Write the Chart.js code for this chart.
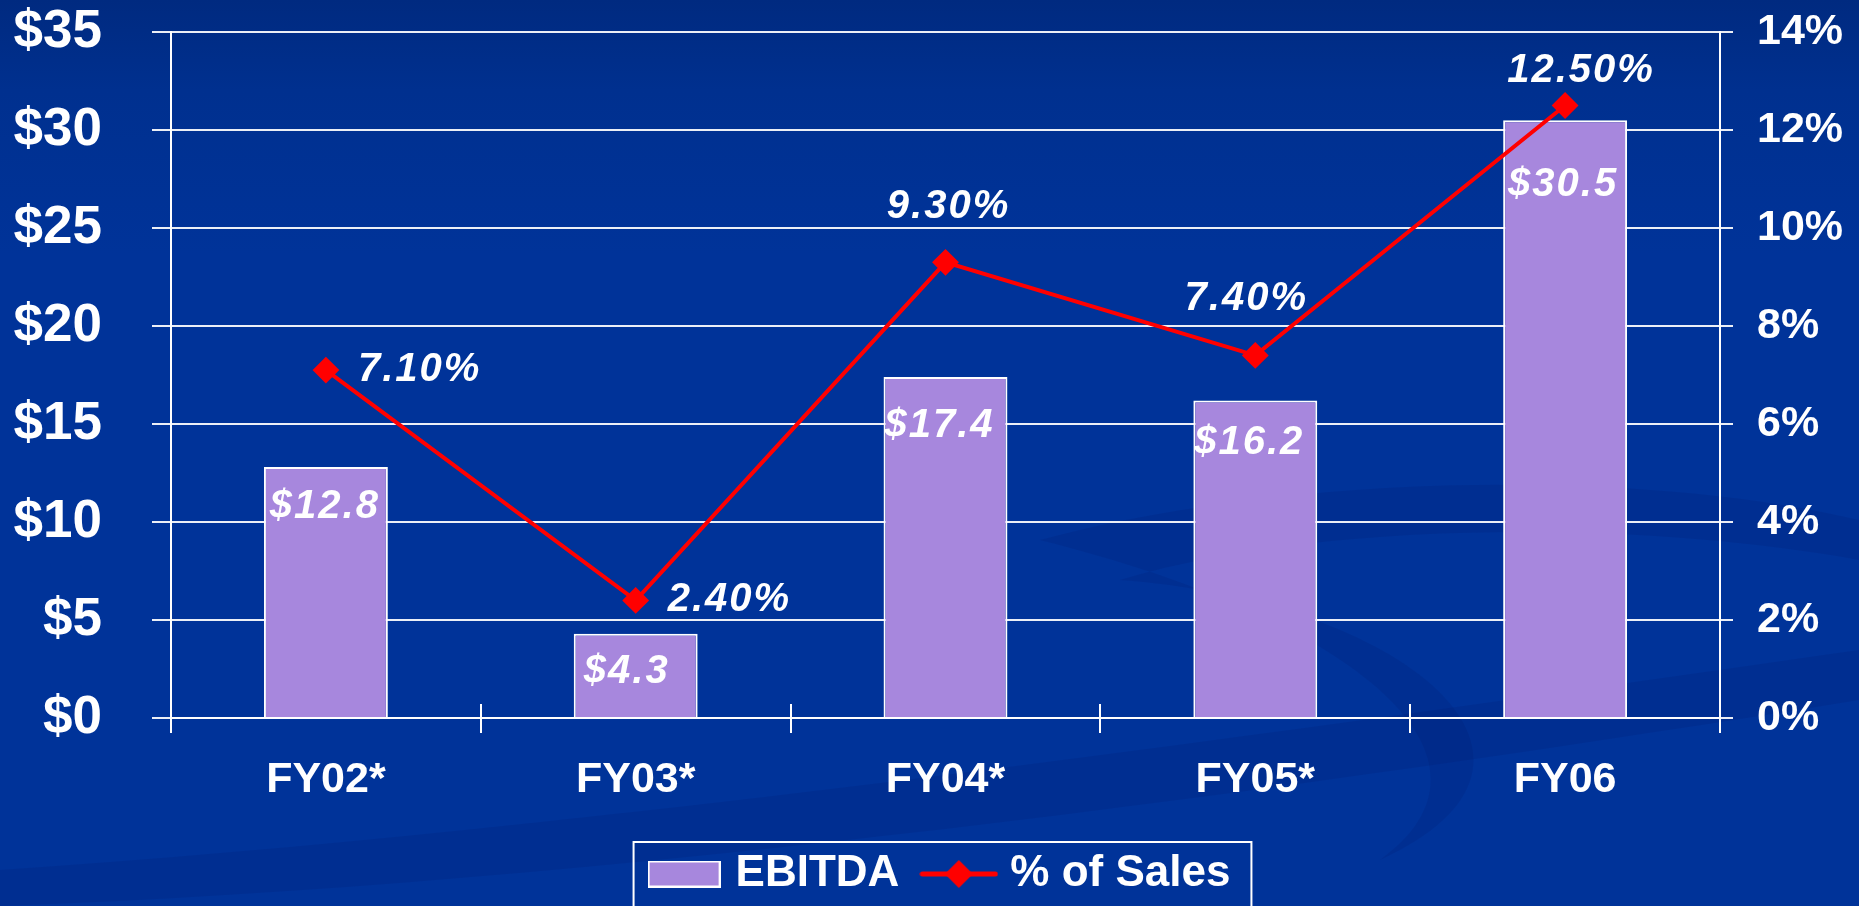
<!DOCTYPE html>
<html><head><meta charset="utf-8">
<script src="https://cdn.jsdelivr.net/npm/chart.js@4/dist/chart.umd.min.js"></script>
<style>html,body{margin:0;padding:0;background:#003399;overflow:hidden}canvas{display:block}</style>
</head><body>
<canvas id="c" width="1859" height="906"></canvas>
<script>
// ---- data ----
const categories = ['FY02*', 'FY03*', 'FY04*', 'FY05*', 'FY06'];
const ebitda = [12.8, 4.3, 17.4, 16.2, 30.5];
const pctOfSales = [7.1, 2.4, 9.3, 7.4, 12.5];
const ebitdaLabels = ['$12.8', '$4.3', '$17.4', '$16.2', '$30.5'];
const pctLabels = ['7.10%', '2.40%', '9.30%', '7.40%', '12.50%'];
const leftAxis = { min: 0, max: 35, step: 5 };
const rightAxis = { min: 0, max: 14, step: 2 };
const seriesNames = ['EBITDA', '% of Sales'];

// ---- label placement (style) ----
const barLabelOffset = [[-1, 51], [-9, 49], [-6, 60], [-6, 54], [-2, 76]];
const pctLabelOffset = [[32, 0, 'left'], [32, 0, 'left'], [3, -55, 'center'], [-9, -56, 'center'], [16, -35, 'center']];

const FONT = "'Liberation Sans', Arial, Helvetica, sans-serif";
const BAR_COLOR = '#A787DD';
const LINE_COLOR = '#FF0000';
const GRID = 'rgba(255,255,255,0.92)';

Chart.defaults.font.family = FONT;
Chart.defaults.font.weight = 'bold';
Chart.defaults.color = '#ffffff';

// legend swatches
function makeSwatch() {
  const c = document.createElement('canvas');
  c.width = 73; c.height = 27;
  const x = c.getContext('2d');
  x.fillStyle = BAR_COLOR; x.fillRect(1, 1, 71, 25);
  x.strokeStyle = '#ffffff'; x.lineWidth = 2; x.strokeRect(1, 1, 71, 25);
  return c;
}
function makeLineSwatch() {
  const c = document.createElement('canvas');
  c.width = 79; c.height = 30;
  const x = c.getContext('2d');
  x.strokeStyle = LINE_COLOR; x.lineWidth = 5; x.lineCap = 'round';
  x.beginPath(); x.moveTo(3, 15); x.lineTo(76, 15); x.stroke();
  x.fillStyle = LINE_COLOR;
  x.beginPath(); x.moveTo(39.5 - 14, 15); x.lineTo(39.5, 1); x.lineTo(39.5 + 14, 15); x.lineTo(39.5, 29); x.closePath(); x.fill();
  return c;
}
const swatchBar = makeSwatch();
const swatchLine = makeLineSwatch();

const bgPlugin = {
  id: 'bg',
  beforeDraw(chart) {
    const { ctx, width, height } = chart;
    ctx.save();
    const g = ctx.createLinearGradient(0, 0, 0, height);
    g.addColorStop(0, '#002a80');
    g.addColorStop(0.1, '#00308f');
    g.addColorStop(0.28, '#003399');
    g.addColorStop(1, '#003399');
    ctx.fillStyle = g;
    ctx.fillRect(0, 0, width, height);
    // subtle darker swirls (decoration)
    ctx.fillStyle = 'rgba(0,30,110,0.18)';
    ctx.beginPath();
    ctx.moveTo(1040, 540);
    ctx.bezierCurveTo(1300, 470, 1650, 470, 1859, 520);
    ctx.lineTo(1859, 560);
    ctx.bezierCurveTo(1640, 520, 1320, 520, 1120, 580);
    ctx.bezierCurveTo(1400, 600, 1600, 760, 1380, 860);
    ctx.bezierCurveTo(1520, 760, 1360, 620, 1040, 540);
    ctx.closePath();
    ctx.fill();
    ctx.beginPath();
    ctx.moveTo(0, 870);
    ctx.bezierCurveTo(600, 830, 1300, 730, 1859, 650);
    ctx.lineTo(1859, 700);
    ctx.bezierCurveTo(1300, 790, 600, 885, 0, 906);
    ctx.closePath();
    ctx.fill();
    ctx.restore();
  }
};

// shift the (full-width) legend so its row sits where the reference has it
const legendShift = {
  id: 'legendShift',
  afterLayout(chart) {
    const lg = chart.legend;
    if (lg) { lg.left += 13; lg.right += 13; }
  }
};

const labelPlugin = {
  id: 'labels',
  afterDatasetsDraw(chart) {
    const ctx = chart.ctx;
    ctx.save();
    ctx.fillStyle = '#ffffff';
    ctx.font = 'italic bold 40px ' + FONT;
    try { ctx.letterSpacing = '2px'; } catch (e) {}
    const bars = chart.getDatasetMeta(0).data;
    bars.forEach((el, i) => {
      ctx.textAlign = 'center';
      ctx.textBaseline = 'alphabetic';
      ctx.fillText(ebitdaLabels[i], el.x + barLabelOffset[i][0], el.y + barLabelOffset[i][1]);
    });
    const pts = chart.getDatasetMeta(1).data;
    pts.forEach((el, i) => {
      const o = pctLabelOffset[i];
      ctx.textAlign = o[2];
      ctx.textBaseline = 'middle';
      ctx.fillText(pctLabels[i], el.x + o[0], el.y + o[1]);
    });
    ctx.restore();
  },
  afterDraw(chart) {
    const ctx = chart.ctx;
    ctx.save();
    // x-axis tick marks cross the axis line
    const xs = chart.scales.x;
    const b = chart.chartArea.bottom;
    ctx.strokeStyle = '#ffffff';
    ctx.lineWidth = 2;
    for (let i = 0; i <= categories.length; i++) {
      const px = Math.round(xs.getPixelForValue(i - 0.5));
      ctx.beginPath(); ctx.moveTo(px, b - 14); ctx.lineTo(px, b); ctx.stroke();
    }
    // legend frame
    const lg = chart.legend;
    if (lg && lg.legendHitBoxes && lg.legendHitBoxes.length) {
      const hb = lg.legendHitBoxes;
      const last = hb[hb.length - 1];
      const l = hb[0].left - 21;
      const r = last.left + last.width + 21;
      const cy = hb[0].top + hb[0].height / 2;
      const t = cy - 32;
      ctx.strokeStyle = '#ffffff';
      ctx.lineWidth = 2;
      ctx.strokeRect(l, t, r - l, 120);
    }
    ctx.restore();
  }
};

new Chart(document.getElementById('c'), {
  data: {
    labels: categories,
    datasets: [
      {
        type: 'bar',
        label: seriesNames[0],
        data: ebitda,
        yAxisID: 'y',
        backgroundColor: BAR_COLOR,
        borderColor: '#ffffff',
        borderWidth: 2,
        barPercentage: 0.4,
        categoryPercentage: 1.0,
        order: 2
      },
      {
        type: 'line',
        label: seriesNames[1],
        data: pctOfSales,
        yAxisID: 'y1',
        borderColor: LINE_COLOR,
        borderWidth: 4,
        pointStyle: 'rectRot',
        pointRadius: 12,
        pointBackgroundColor: LINE_COLOR,
        pointBorderColor: LINE_COLOR,
        pointBorderWidth: 2,
        tension: 0,
        order: 1
      }
    ]
  },
  options: {
    responsive: false,
    animation: false,
    devicePixelRatio: 1,
    events: [],
    layout: { padding: { top: 32, left: 0, right: 0, bottom: 0 } },
    plugins: {
      tooltip: { enabled: false },
      legend: {
        display: true,
        position: 'bottom',
        labels: {
          usePointStyle: true,
          pointStyleWidth: 59,
          padding: 30,
          color: '#ffffff',
          font: { size: 44, weight: 'bold', family: FONT },
          generateLabels() {
            return [
              { text: seriesNames[0], pointStyle: swatchBar, fillStyle: BAR_COLOR, strokeStyle: '#fff', lineWidth: 0, datasetIndex: 0, fontColor: '#ffffff' },
              { text: seriesNames[1], pointStyle: swatchLine, fillStyle: LINE_COLOR, strokeStyle: LINE_COLOR, lineWidth: 0, datasetIndex: 1, fontColor: '#ffffff' }
            ];
          }
        }
      }
    },
    scales: {
      x: {
        offset: true,
        grid: { offset: true, drawOnChartArea: false, drawTicks: true, tickLength: 15, color: '#ffffff', lineWidth: 2 },
        border: { display: true, color: '#ffffff', width: 2 },
        ticks: { color: '#ffffff', font: { size: 43, weight: 'bold' }, padding: 21, maxRotation: 0 },
        afterFit(s) { s.height = 104; }
      },
      y: {
        position: 'left',
        min: leftAxis.min, max: leftAxis.max,
        grid: { color: GRID, lineWidth: 2, tickLength: 19, drawTicks: true },
        border: { display: true, color: '#ffffff', width: 2 },
        ticks: { stepSize: leftAxis.step, padding: 50, color: '#ffffff', font: { size: 53, weight: 'bold' }, callback: v => '$' + v },
        afterFit(s) { s.width = 171; s.paddingTop = 20; s.paddingBottom = 20; }
      },
      y1: {
        position: 'right',
        min: rightAxis.min, max: rightAxis.max,
        grid: { drawOnChartArea: false, color: GRID, lineWidth: 2, tickLength: 13, drawTicks: true },
        border: { display: true, color: '#ffffff', width: 2 },
        ticks: { stepSize: rightAxis.step, padding: 24, color: '#ffffff', font: { size: 43, weight: 'bold' }, callback: v => v + '%' },
        afterFit(s) { s.width = 139; s.paddingTop = 20; s.paddingBottom = 20; }
      }
    }
  },
  plugins: [bgPlugin, legendShift, labelPlugin]
});
</script>
</body></html>
